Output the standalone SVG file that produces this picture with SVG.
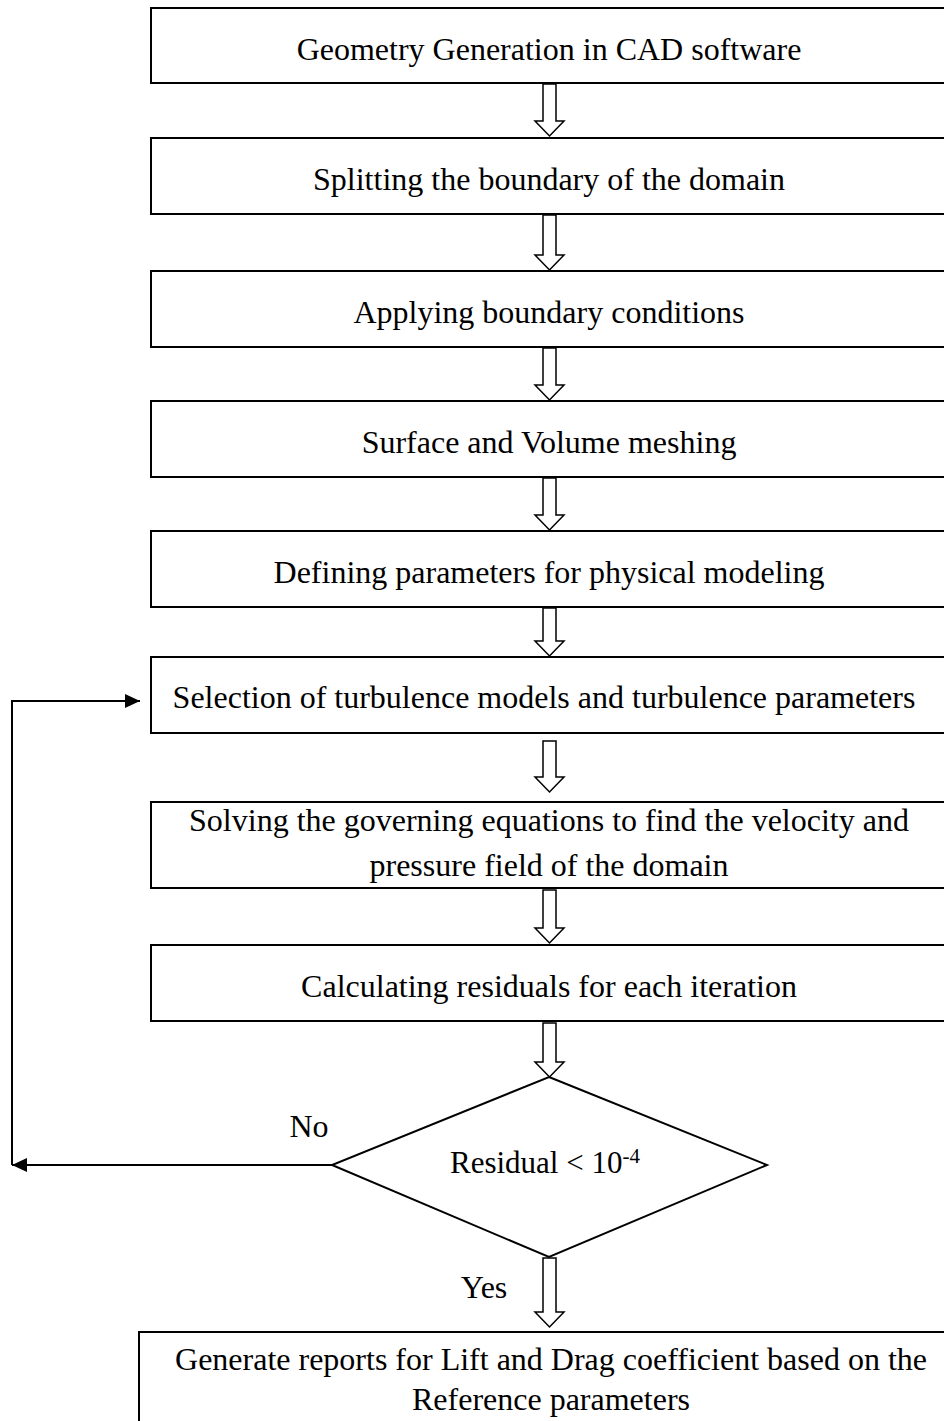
<svg xmlns="http://www.w3.org/2000/svg" width="944" height="1421" viewBox="0 0 944 1421">
<style>
.box{fill:#fff;stroke:#000;stroke-width:2}
.t{font-family:"Liberation Serif","Times New Roman",serif;font-size:32px;fill:#000;text-anchor:middle}
.ha{fill:#fff;stroke:#000;stroke-width:1.5;stroke-linejoin:miter}
.ln{fill:none;stroke:#000;stroke-width:2}
</style>
<defs>
<marker id="ah" markerUnits="userSpaceOnUse" markerWidth="16" markerHeight="16" refX="15" refY="7" orient="auto">
<path d="M0,0 L15,7 L0,14 Z" fill="#000"/>
</marker>
</defs>
<rect width="944" height="1421" fill="#fff"/>
<g id="n1"><rect class="box" x="151" y="8" width="800" height="75"/><text class="t" x="549" y="60">Geometry Generation in CAD software</text></g>
<g id="n2"><rect class="box" x="151" y="138" width="800" height="76"/><text class="t" x="549" y="190">Splitting the boundary of the domain</text></g>
<g id="n3"><rect class="box" x="151" y="271" width="800" height="76"/><text class="t" x="549" y="323">Applying boundary conditions</text></g>
<g id="n4"><rect class="box" x="151" y="401" width="800" height="76"/><text class="t" x="549" y="453">Surface and Volume meshing</text></g>
<g id="n5"><rect class="box" x="151" y="531" width="800" height="76"/><text class="t" x="549" y="583">Defining parameters for physical modeling</text></g>
<g id="n6"><rect class="box" x="151" y="657" width="800" height="76"/><text class="t" x="544" y="708">Selection of turbulence models and turbulence parameters</text></g>
<g id="n7"><rect class="box" x="151" y="802" width="800" height="86"/><text class="t" x="549" y="831">Solving the governing equations to find the velocity and</text><text class="t" x="549" y="876">pressure field of the domain</text></g>
<g id="n8"><rect class="box" x="151" y="945" width="800" height="76"/><text class="t" x="549" y="997">Calculating residuals for each iteration</text></g>
<g id="n9"><polygon class="box" points="549,1077 767,1165 549,1257 332,1165"/><text x="450" y="1173" style="font-family:'Liberation Serif','Times New Roman',serif;font-size:31px;fill:#000">Residual &lt; 10<tspan dy="-10" font-size="21">-4</tspan></text></g>
<g id="n10"><rect class="box" x="139" y="1332" width="830" height="100"/><text class="t" x="551" y="1370">Generate reports for Lift and Drag coefficient based on the</text><text class="t" x="551" y="1410">Reference parameters</text></g>
<g id="labels"><text class="t" x="309" y="1137">No</text><text class="t" x="484" y="1298">Yes</text></g>
<g id="connectors">
<polygon class="ha" points="543,84 556,84 556,121 564,121 549.5,136 535,121 543,121"/>
<polygon class="ha" points="543,215 556,215 556,255 564,255 549.5,270 535,255 543,255"/>
<polygon class="ha" points="543,348 556,348 556,385 564,385 549.5,400 535,385 543,385"/>
<polygon class="ha" points="543,478 556,478 556,515 564,515 549.5,530 535,515 543,515"/>
<polygon class="ha" points="543,608 556,608 556,641 564,641 549.5,656 535,641 543,641"/>
<polygon class="ha" points="543,741 556,741 556,777 564,777 549.5,792 535,777 543,777"/>
<polygon class="ha" points="543,890 556,890 556,928 564,928 549.5,943 535,928 543,928"/>
<polygon class="ha" points="543,1023 556,1023 556,1062 564,1062 549.5,1077 535,1062 543,1062"/>
<polygon class="ha" points="543,1258 556,1258 556,1312 564,1312 549.5,1327 535,1312 543,1312"/>
<path class="ln" d="M332,1165 H12" marker-end="url(#ah)"/>
<path class="ln" d="M12,1165 V701 H140" marker-end="url(#ah)"/>
</g>
</svg>
